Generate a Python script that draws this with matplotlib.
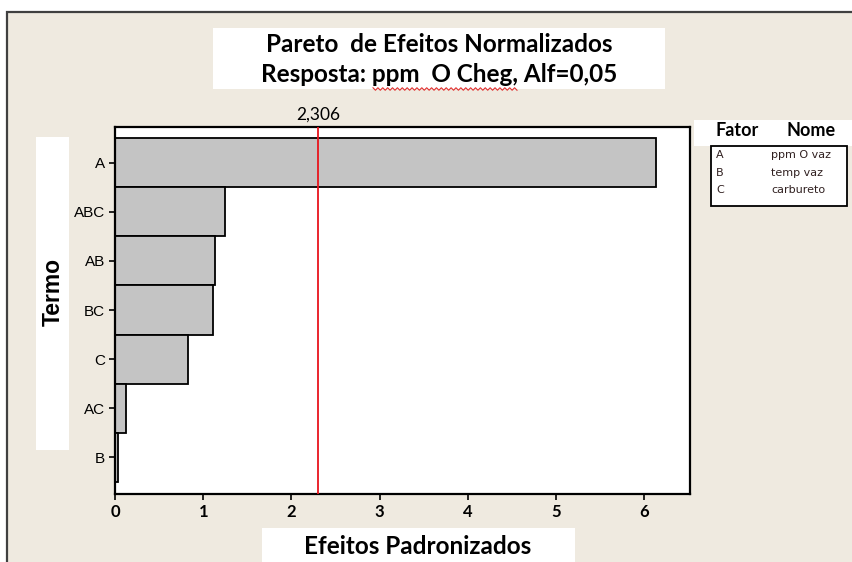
import numpy as np
import matplotlib
matplotlib.use('Agg')
import matplotlib.pyplot as plt
from matplotlib.patches import Rectangle
from matplotlib.lines import Line2D

# ---------------------------- data ----------------------------
termos = ['A', 'ABC', 'AB', 'BC', 'C', 'AC', 'B']
efeitos = [6.13, 1.25, 1.13, 1.11, 0.83, 0.12, 0.03]
limite = 2.306
fatores = ['A', 'B', 'C']
nomes = ['ppm O vaz', 'temp vaz', 'carbureto']
x_ticks = [0, 1, 2, 3, 4, 5, 6]

bg = '#efeae0'
titulo_font = 'Lato'
W, H = 853, 562

fig = plt.figure(figsize=(8.53, 5.62), dpi=100)
fig.patch.set_facecolor('white')


def fx(px):
    return px / W


def fy(py):
    return 1 - py / H


# beige panel with dark border (top and left visible)
fig.patches.append(Rectangle((fx(7), -0.05), 1.2, fy(12) + 0.05,
                             transform=fig.transFigure, facecolor=bg,
                             edgecolor='#404040', linewidth=1.6, zorder=0))

ax = fig.add_axes([fx(115), fy(494), (690 - 115) / W, (494 - 127) / H])
ax.set_zorder(5)
ax.set_facecolor('white')

y_pos = np.arange(len(termos))[::-1]
ax.barh(y_pos, efeitos, height=1.0, color='#c4c4c4', edgecolor='black',
        linewidth=1.3, zorder=2)
ax.axvline(limite, color='#e8141c', linewidth=1.3, zorder=3)

ax.set_xlim(0, 6.52)
ax.set_ylim(-0.75, 6.73)
ax.set_yticks(y_pos)
ax.set_yticklabels(termos, fontsize=11, family=['Liberation Sans Narrow', 'Liberation Sans'])
ax.set_xticks(x_ticks)
ax.set_xticklabels([str(t) for t in x_ticks], fontsize=12, family=titulo_font,
                   fontweight='bold')
ax.tick_params(direction='out', length=4, width=1.2, pad=3)
for s in ax.spines.values():
    s.set_linewidth(1.6)

ax.text(limite, 1.012, '2,306', transform=ax.get_xaxis_transform(),
        ha='center', va='bottom', fontsize=12.5, family=titulo_font)

# title box
fig.patches.append(Rectangle((fx(213), fy(89)), 452 / W, 61 / H,
                             transform=fig.transFigure, facecolor='white',
                             edgecolor='none', zorder=1))
fig.text(fx(439), fy(45), 'Pareto  de Efeitos Normalizados',
         ha='center', va='center', fontsize=17.5, fontweight='bold',
         family=titulo_font)
fig.text(fx(439), fy(75), 'Resposta: ppm  O Cheg, Alf=0,05',
         ha='center', va='center', fontsize=17.5, fontweight='bold',
         family=titulo_font)
# spell-check squiggle under "ppm  O Cheg"
sx = np.linspace(fx(373), fx(517), 60)
sy = fy(89) + 0.0022 * np.where(np.arange(60) % 2 == 0, 1, -1)
fig.add_artist(Line2D(sx, sy, transform=fig.transFigure, color='#e03030',
                      linewidth=0.8, zorder=3))

# y label box
fig.patches.append(Rectangle((fx(36), fy(450)), 33 / W, 313 / H,
                             transform=fig.transFigure, facecolor='white',
                             edgecolor='none', zorder=1))
fig.text(fx(53), fy(292), 'Termo', rotation=90, ha='center',
         va='center', fontsize=16.5, fontweight='bold', family='Liberation Sans')

# x label box
fig.patches.append(Rectangle((fx(262), 0), 313 / W, 34 / H,
                             transform=fig.transFigure, facecolor='white',
                             edgecolor='none', zorder=1))
fig.text(fx(418), fy(547), 'Efeitos Padronizados', ha='center',
         va='center', fontsize=17.5, fontweight='bold', family=titulo_font)

# legend (Fator / Nome)
fig.patches.append(Rectangle((fx(694), fy(146)), 159 / W, 26 / H,
                             transform=fig.transFigure, facecolor='white',
                             edgecolor='none', zorder=1))
fig.text(fx(737), fy(131), 'Fator', ha='center', va='center',
         fontsize=13, fontweight='bold', family=titulo_font)
fig.text(fx(811), fy(131), 'Nome', ha='center', va='center',
         fontsize=13, fontweight='bold', family=titulo_font)
fig.patches.append(Rectangle((fx(711), fy(206)), 136 / W, 60 / H,
                             transform=fig.transFigure, facecolor='white',
                             edgecolor='black', linewidth=1.3, zorder=1))
for i, (f, n) in enumerate(zip(fatores, nomes)):
    yy = fy(155 + i * 17.5)
    fig.text(fx(716), yy, f, ha='left', va='center', fontsize=8,
             family='DejaVu Sans', color='#302020')
    fig.text(fx(771), yy, n, ha='left', va='center', fontsize=8,
             family='DejaVu Sans', color='#302020')

fig.savefig('out.png', dpi=100, facecolor=fig.get_facecolor())
